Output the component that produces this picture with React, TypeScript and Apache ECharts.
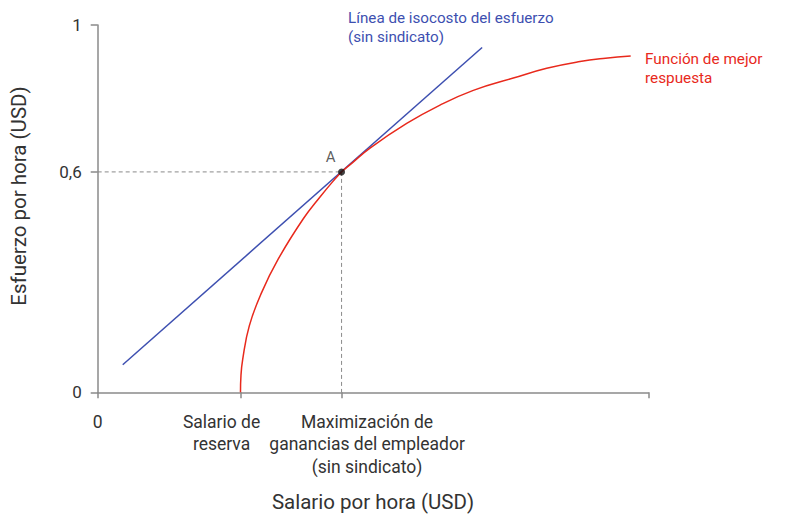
import React, { useEffect, useRef } from "react";
import * as echarts from "echarts";

// Axis extents
const wageMax = 55;
const effortMax = 1;

// Key values
const reserveWage = 14.27;
const profitMaxWage = 24.36;
const effortA = 0.6;

// Tick values and labels
const xTickValues = [0, reserveWage];
const xTickLabels = ["0", "Salario de\nreserva"];
const xTickValuesB = [profitMaxWage];
const xTickLabelsB = ["Maximización de\nganancias del empleador\n(sin sindicato)"];
const xTickMarks = [0, reserveWage, profitMaxWage, wageMax];
const yTickValues = [0, 0.6, 1];
const yTickLabels = ["0", "0,6", "1"];

// Best response function
const bestResponseWage = [14.264, 14.31, 14.484, 15.143, 16.382, 18.04, 20.537, 22.206, 23.604, 24.36, 25.402, 27.2, 30.866, 34.192, 37.519, 41.515, 44.851, 48.177, 50.724, 53.241];
const bestResponseEffort = [0, 0.045, 0.0899, 0.1809, 0.2721, 0.3631, 0.4724, 0.5317, 0.5776, 0.6, 0.624, 0.665, 0.732, 0.782, 0.8221, 0.8555, 0.8822, 0.9005, 0.9096, 0.9158];

// Isocost line of effort (no union)
const isocostWage = [2.5, 38.4];
const isocostEffort = [0.075, 0.9388];

const BLUE = "#3d4fb0";
const RED = "#e8291c";
const AXIS = "#8a8a8a";
const TEXT = "#333333";
const FONT = "Roboto";

export default function App() {
  const ref = useRef<HTMLDivElement>(null);

  useEffect(() => {
    if (!ref.current) return;
    const chart = echarts.init(ref.current, null, { renderer: "svg" });

    const bestResponse = bestResponseWage.map((w, i) => [w, bestResponseEffort[i]]);
    const isocost = isocostWage.map((w, i) => [w, isocostEffort[i]]);

    const labelStyle = { fontFamily: FONT, fontSize: 17.5, lineHeight: 22.5, color: TEXT };

    const lookup = (values: number[], labels: string[], key: string) => (value: number) => {
      const i = values.findIndex((v) => Math.abs(v - value) < 1e-6);
      if (i < 0) return "";
      return labels[i].split("\n").map((s) => `{${key}|${s}}`).join("\n");
    };

    const option: any = {
      animation: false,
      grid: { left: 97.7, right: 160.7, top: 25, bottom: 138.7, containLabel: false },
      xAxis: [
        {
          type: "value",
          min: 0,
          max: wageMax,
          name: "Salario por hora (USD)",
          nameLocation: "middle",
          nameGap: 99,
          nameTextStyle: { fontFamily: FONT, fontSize: 20.5, color: TEXT },
          axisLine: { show: true, onZero: false, lineStyle: { color: AXIS, width: 1.5 } },
          axisTick: { show: true, inside: false, length: 6, customValues: xTickMarks, lineStyle: { color: AXIS, width: 1.5 } },
          splitLine: { show: false },
          axisLabel: {
            show: true,
            customValues: xTickValues,
            hideOverlap: false,
            margin: 18,
            ...labelStyle,
            formatter: (value: number) => {
              const i = xTickValues.findIndex((v) => Math.abs(v - value) < 1e-6);
              if (i < 0) return "";
              const key = i === 1 ? "l" : "c";
              return xTickLabels[i].split("\n").map((s) => `{${key}|${s}}`).join("\n");
            },
            rich: {
              c: { ...labelStyle },
              l: { ...labelStyle, padding: [0, 38, 0, 0] },
            },
          },
        },
        {
          type: "value",
          min: 0,
          max: wageMax,
          position: "bottom",
          axisLine: { show: false, onZero: false },
          axisTick: { show: false },
          splitLine: { show: false },
          axisLabel: {
            show: true,
            customValues: xTickValuesB,
            hideOverlap: false,
            margin: 18,
            ...labelStyle,
            formatter: lookup(xTickValuesB, xTickLabelsB, "r"),
            rich: {
              r: { ...labelStyle, padding: [0, 0, 0, 51] },
            },
          },
        },
      ],
      yAxis: {
        type: "value",
        min: 0,
        max: effortMax,
        axisLine: { show: true, onZero: false, lineStyle: { color: AXIS, width: 1.5 } },
        axisTick: { show: true, inside: false, length: 7, customValues: yTickValues, lineStyle: { color: AXIS, width: 1.5 } },
        splitLine: { show: false },
        axisLabel: {
          show: true,
          customValues: yTickValues,
          hideOverlap: false,
          margin: 16,
          fontFamily: FONT,
          fontSize: 17,
          color: TEXT,
          formatter: (value: number) => {
            const i = yTickValues.findIndex((v) => Math.abs(v - value) < 1e-6);
            return i < 0 ? "" : yTickLabels[i];
          },
        },
      },
      series: [
        {
          type: "line",
          xAxisIndex: 0,
          data: [[0, effortA], [profitMaxWage, effortA]],
          symbol: "none",
          lineStyle: { color: AXIS, width: 1, type: [4, 3] },
          z: 1,
          silent: true,
        },
        {
          type: "line",
          xAxisIndex: 0,
          data: [[profitMaxWage, effortA], [profitMaxWage, 0]],
          symbol: "none",
          lineStyle: { color: AXIS, width: 1, type: [4, 3] },
          z: 1,
          silent: true,
        },
        {
          type: "line",
          xAxisIndex: 0,
          data: isocost,
          symbol: "none",
          lineStyle: { color: BLUE, width: 1.5 },
          z: 2,
        },
        {
          type: "line",
          xAxisIndex: 0,
          data: bestResponse,
          symbol: "none",
          smooth: 0.45,
          lineStyle: { color: RED, width: 1.5 },
          z: 3,
        },
        {
          type: "scatter",
          xAxisIndex: 0,
          data: [[profitMaxWage, effortA]],
          symbol: "circle",
          symbolSize: 7,
          itemStyle: { color: "#111111" },
          label: {
            show: true,
            formatter: "A",
            position: "top",
            offset: [-11, 1],
            fontFamily: FONT,
            fontSize: 15,
            color: TEXT,
          },
          z: 5,
        },
      ],
      graphic: [
        {
          type: "text",
          x: 19,
          y: 196,
          rotation: Math.PI / 2,
          style: {
            text: "Esfuerzo por hora (USD)",
            fontFamily: FONT,
            fontSize: 20.5,
            fill: TEXT,
            align: "center",
            verticalAlign: "middle",
          },
        },
        {
          type: "text",
          x: 348,
          y: 9,
          style: {
            text: "Línea de isocosto del esfuerzo\n(sin sindicato)",
            fontFamily: FONT,
            fontSize: 15.2,
            lineHeight: 18.5,
            fill: BLUE,
            align: "left",
            verticalAlign: "top",
          },
        },
        {
          type: "text",
          x: 645,
          y: 49,
          style: {
            text: "Función de mejor\nrespuesta",
            fontFamily: FONT,
            fontSize: 15.3,
            lineHeight: 19,
            fill: RED,
            align: "left",
            verticalAlign: "top",
          },
        },
      ],
    };

    chart.setOption(option);
    return () => chart.dispose();
  }, []);

  return (
    <div
      ref={ref}
      style={{ position: "fixed", left: 0, top: 0, width: 809, height: 531, background: "#ffffff" }}
    />
  );
}
